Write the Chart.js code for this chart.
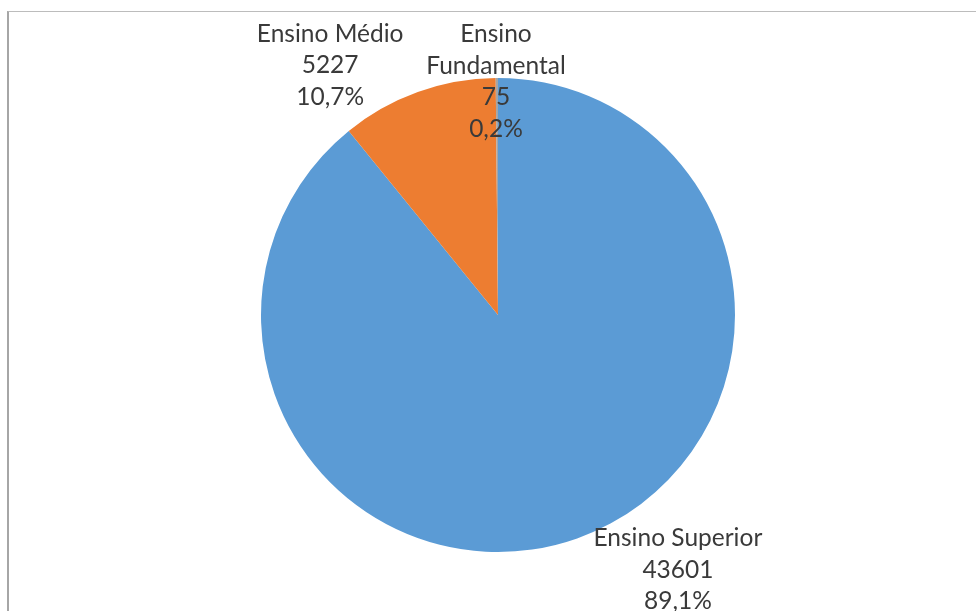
<!DOCTYPE html>
<html>
<head>
<meta charset="utf-8">
<script src="https://cdn.jsdelivr.net/npm/chart.js@4"></script>
<style>
  html, body { margin: 0; padding: 0; background: #fff; overflow: hidden; }
  #moldura {
    position: absolute; left: 7px; top: 11px; width: 1000px; height: 700px;
    border-left: 2px solid #a6a6a6; border-top: 1px solid #bcbcbc;
  }
  #area { position: absolute; left: 0; top: 0; width: 976px; height: 611px; }
</style>
</head>
<body>
<div id="moldura"></div>
<div id="area"><canvas id="pizza"></canvas></div>
<script>
// dados
let categorias = ["Ensino Superior", "Ensino Médio", "Ensino Fundamental"];
let valores = [43601, 5227, 75];
let percentuais = ["89,1%", "10,7%", "0,2%"];
let cores = ["#5B9BD5", "#ED7D31", "#A5A5A5"];

// rotulos quebrados em linhas como no original
let linhasRotulo = [
  ["Ensino Superior"],
  ["Ensino Médio"],
  ["Ensino", "Fundamental"],
];

// posicao dos rotulos: angulo (graus) e distancia relativa ao raio
let posicoes = [
  { ang: 54.8, dist: 1.317 },
  { ang: -123.9, dist: 1.27 },
  { ang: -90.5, dist: 0.985 },
];

const rotulos = {
  id: "rotulos",
  afterDatasetsDraw(chart) {
    const ctx = chart.ctx;
    const arcos = chart.getDatasetMeta(0).data;
    ctx.save();
    ctx.font = "24.5px Lato";
    ctx.fillStyle = "#3a3a3a";
    ctx.textAlign = "center";
    ctx.textBaseline = "middle";
    const alturaLinha = 31.5;
    arcos.forEach((arco, i) => {
      const r = arco.outerRadius * posicoes[i].dist;
      const a = (posicoes[i].ang * Math.PI) / 180;
      const cx = arco.x + r * Math.cos(a);
      const cy = arco.y + r * Math.sin(a);
      const linhas = [...linhasRotulo[i], String(valores[i]), percentuais[i]];
      const y0 = cy - ((linhas.length - 1) * alturaLinha) / 2;
      linhas.forEach((t, k) => ctx.fillText(t, cx, y0 + k * alturaLinha));
    });
    ctx.restore();
  },
};

new Chart(document.getElementById("pizza"), {
  type: "pie",
  data: {
    labels: categorias,
    datasets: [
      {
        data: valores,
        backgroundColor: cores,
        borderWidth: 0,
      },
    ],
  },
  options: {
    responsive: true,
    maintainAspectRatio: false,
    animation: false,
    layout: {
      padding: { left: 261, right: 241, top: 78, bottom: 59 },
    },
    plugins: {
      legend: { display: false },
      tooltip: { enabled: false },
    },
  },
  plugins: [rotulos],
});
</script>
</body>
</html>
